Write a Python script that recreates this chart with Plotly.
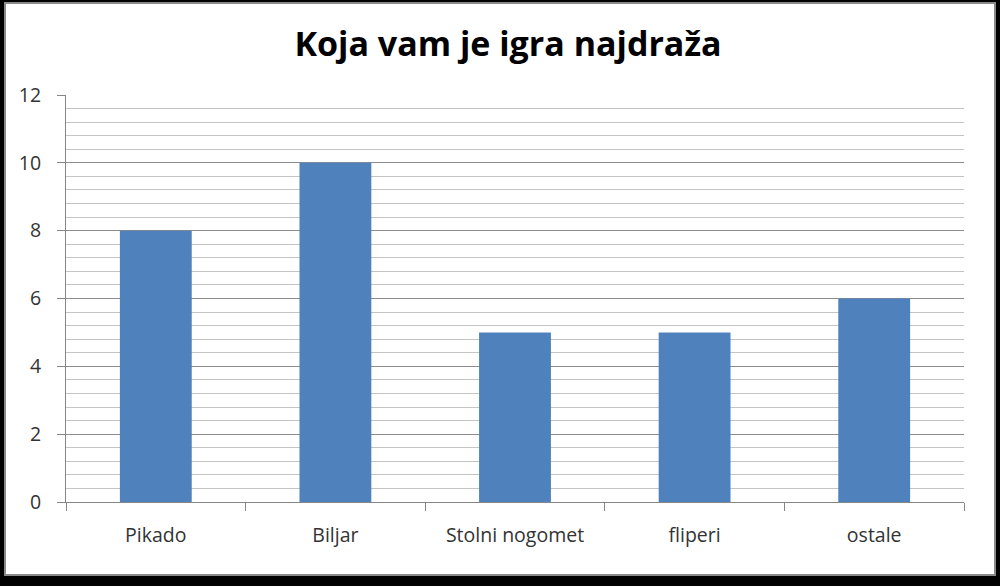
import plotly.graph_objects as go

categories = ["Pikado", "Biljar", "Stolni nogomet", "fliperi", "ostale"]
values = [8, 10, 5, 5, 6]
y_ticks = [0, 2, 4, 6, 8, 10, 12]

fig = go.Figure()
fig.add_trace(go.Bar(x=categories, y=values, marker=dict(color="#4f81bd", line=dict(width=0)), width=0.4))

L, R, T, B = 66, 36, 95, 84
W, H = 1000, 586
pw, ph = W - L - R, H - T - B

def px_x(x):
    return (x - L) / pw

def px_y(y):
    return (H - B - y) / ph

fig.update_layout(
    width=W, height=H,
    margin=dict(l=L, r=R, t=T, b=B),
    paper_bgcolor="#000000",
    plot_bgcolor="rgba(0,0,0,0)",
    showlegend=False,
    title=dict(text="<b>Koja vam je igra najdraža</b>", x=0.508, xanchor="center", y=1 - 44 / H, yanchor="middle",
               font=dict(family="Open Sans", size=34, color="#000000")),
    font=dict(family="Open Sans", color="#333333"),
    shapes=[
        dict(type="rect", xref="paper", yref="paper", layer="below",
             x0=px_x(4), x1=px_x(996), y0=px_y(576), y1=px_y(2),
             fillcolor="#8a8a8a", line=dict(width=0)),
        dict(type="rect", xref="paper", yref="paper", layer="below",
             x0=px_x(6), x1=px_x(994), y0=px_y(574), y1=px_y(4),
             fillcolor="#ffffff", line=dict(width=0)),
    ],
)
fig.update_xaxes(
    type="category", showline=True, linecolor="#868686", linewidth=1,
    ticks="outside", tickson="boundaries", ticklen=8, tickcolor="#868686",
    tickfont=dict(size=19.5, color="#333333"), ticklabelstandoff=16, showgrid=False,
)
fig.update_yaxes(
    range=[0, 12], tickvals=y_ticks, showline=True, linecolor="#868686", linewidth=1,
    ticks="outside", ticklen=8, tickcolor="#868686",
    tickfont=dict(size=19.5, color="#333333"), ticklabelstandoff=12,
    showgrid=True, gridcolor="#8c8c8c", gridwidth=1, zeroline=False,
    minor=dict(dtick=0.4, showgrid=True, gridcolor="#c4c4c4", gridwidth=1, ticks=""),
)

fig.write_html("out.html", config={"displayModeBar": False},
               post_script="document.body.style.margin='0';document.body.style.overflow='hidden';")
